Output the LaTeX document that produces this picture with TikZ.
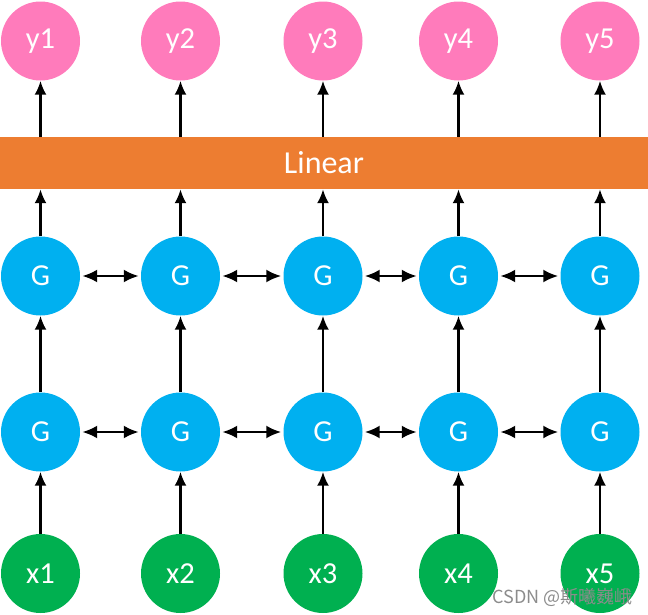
\documentclass[tikz,border=0pt]{standalone}
\usepackage{fontspec}
\setmainfont{Carlito}
\newfontfamily\cjk{Noto Sans CJK SC}
\usetikzlibrary{arrows.meta}
\definecolor{ypink}{HTML}{FF7BBB}
\definecolor{linorange}{HTML}{ED7D31}
\definecolor{gblue}{HTML}{00B0F0}
\definecolor{xgreen}{HTML}{00B050}
\tikzset{
  circ/.style={circle, minimum size=79pt, inner sep=0pt, text=white, font=\fontsize{30.5}{33}\selectfont},
  ynode/.style={circ, fill=ypink},
  gnode/.style={circ, fill=gblue},
  xnode/.style={circ, fill=xgreen},
  arr/.style={-{Latex[length=14pt,width=12pt]}, line width=2.4pt, black},
  barr/.style={{Latex[length=15pt,width=13pt]}-{Latex[length=15pt,width=13pt]}, line width=2.6pt, black, shorten >=2pt, shorten <=2pt}
}
\begin{document}
\begin{tikzpicture}[x=1pt,y=-1pt]
\useasboundingbox (0,0) rectangle (648,614);
\node[rectangle, fill=linorange, minimum width=648pt, minimum height=52pt, inner sep=0pt, text=white, font=\fontsize{32}{35}\selectfont] (lin) at (324,163) {Linear};
\foreach \i/\x in {1/40.5,2/180.5,3/323,4/458.5,5/600}{
  \node[ynode] (y\i) at (\x,41) {y\i};
  \node[gnode] (ga\i) at (\x,276) {G};
  \node[gnode] (gb\i) at (\x,432) {G};
  \node[xnode] (x\i) at (\x,573.5) {x\i};
  \draw[arr] (x\i) -- (gb\i);
  \draw[arr] (gb\i) -- (ga\i);
  \draw[arr] (ga\i.north) -- (ga\i.north |- lin.south);
  \draw[arr] (y\i.south |- lin.north) -- (y\i.south);
}
\foreach \a/\b in {1/2,2/3,3/4,4/5}{
  \draw[barr] (ga\a) -- (ga\b);
  \draw[barr] (gb\a) -- (gb\b);
}
\node[anchor=east, text=black!45, font=\cjk\fontsize{18}{20}\selectfont, inner sep=0pt] (wm) at (633,597) {CSDN @斯曦巍峨};
\end{tikzpicture}
\end{document}
